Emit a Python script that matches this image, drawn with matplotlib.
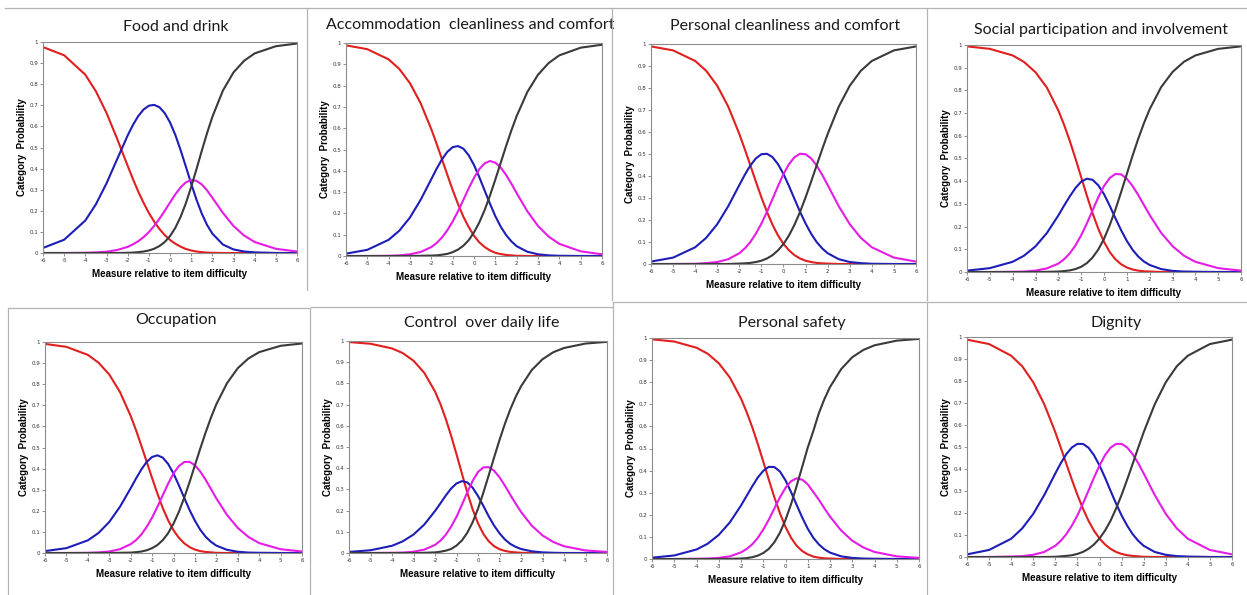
import matplotlib.pyplot as plt
from matplotlib.lines import Line2D

# measure relative to item difficulty (x positions of the read values)
measure = [-6, -5, -4, -3.5, -3, -2.5, -2, -1.75, -1.5, -1.25, -1, -0.75, -0.5, -0.25, 0,
           0.25, 0.5, 0.75, 1, 1.25, 1.5, 1.75, 2, 2.5, 3, 3.5, 4, 5, 6]

# category probability curves (cat0 red, cat1 blue, cat2 magenta, cat3 black)
food0 = [.976, .937, .845, .766, .664, .542, .413, .350, .291, .238, .190, .149, .114, .085, .062,
         .044, .030, .019, .012, .007, .004, .002, .001, 0, 0, 0, 0, 0, 0]
food1 = [.024, .063, .154, .231, .330, .444, .557, .607, .649, .680, .698, .702, .691, .663, .619,
         .560, .488, .409, .329, .253, .187, .133, .092, .040, .017, .007, .003, 0, 0]
food2 = [0, 0, .001, .003, .006, .014, .029, .041, .056, .075, .099, .128, .162, .200, .239,
         .278, .311, .335, .346, .342, .325, .297, .262, .190, .128, .083, .052, .020, .007]
food3 = [0, 0, 0, 0, 0, 0, .001, .002, .004, .007, .012, .020, .033, .052, .080,
         .119, .171, .236, .313, .397, .484, .568, .645, .770, .856, .911, .946, .980, .993]

accom0 = [.989, .971, .923, .878, .811, .717, .595, .526, .454, .381, .310, .244, .185, .136, .095,
          .064, .042, .026, .015, .009, .005, .003, .001, 0, 0, 0, 0, 0, 0]
accom1 = [.011, .029, .076, .119, .181, .264, .361, .410, .454, .489, .511, .516, .504, .473, .427,
          .370, .307, .245, .187, .138, .099, .069, .046, .020, .008, .003, .001, 0, 0]
accom2 = [0, 0, .001, .003, .008, .019, .042, .061, .087, .121, .162, .210, .263, .317, .367,
          .408, .435, .446, .438, .416, .381, .340, .295, .210, .141, .091, .057, .022, .008]
accom3 = [0, 0, 0, 0, 0, .001, .002, .003, .006, .010, .018, .030, .048, .074, .111,
          .158, .216, .284, .359, .437, .515, .589, .657, .770, .851, .906, .942, .978, .992]

pclean0 = [.989, .971, .923, .878, .810, .715, .591, .521, .448, .374, .303, .237, .179, .130, .091,
           .062, .040, .025, .015, .009, .005, .003, .002, 0, 0, 0, 0, 0, 0]
pclean1 = [.011, .029, .076, .119, .181, .263, .359, .406, .448, .480, .499, .501, .486, .454, .409,
           .354, .295, .237, .184, .138, .100, .071, .049, .022, .009, .004, .001, 0, 0]
pclean2 = [0, 0, .001, .004, .009, .022, .049, .071, .100, .138, .184, .237, .295, .354, .409,
           .454, .486, .501, .499, .480, .448, .406, .359, .263, .181, .119, .076, .029, .011]
pclean3 = [0, 0, 0, 0, 0, 0, .002, .003, .005, .009, .015, .025, .040, .062, .091,
           .130, .179, .237, .303, .374, .448, .521, .591, .715, .810, .878, .923, .971, .989]

social0 = [.994, .983, .954, .925, .880, .812, .712, .649, .578, .500, .418, .336, .259, .190, .133,
           .088, .056, .034, .020, .011, .006, .003, .002, 0, 0, 0, 0, 0, 0]
social1 = [.006, .017, .045, .072, .113, .172, .249, .292, .333, .370, .398, .411, .406, .382, .343,
           .292, .237, .184, .137, .098, .068, .046, .031, .013, .005, .002, .001, 0, 0]
social2 = [0, 0, .001, .002, .006, .016, .037, .056, .082, .117, .162, .214, .272, .329, .379,
           .414, .432, .430, .411, .379, .339, .295, .251, .173, .114, .072, .045, .017, .006]
social3 = [0, 0, 0, 0, 0, .001, .002, .004, .007, .013, .023, .039, .064, .099, .146,
           .206, .275, .352, .432, .512, .587, .656, .717, .814, .881, .926, .954, .983, .994]

occup0 = [.991, .977, .939, .902, .846, .763, .650, .582, .508, .432, .355, .281, .213, .155, .108,
          .072, .046, .028, .016, .009, .005, .003, .001, 0, 0, 0, 0, 0, 0]
occup1 = [.009, .023, .060, .095, .147, .219, .307, .353, .396, .432, .455, .463, .452, .422, .377,
          .321, .262, .204, .153, .110, .077, .053, .035, .015, .006, .002, .001, 0, 0]
occup2 = [0, 0, .001, .003, .007, .018, .042, .061, .088, .124, .168, .219, .274, .329, .377,
          .412, .431, .432, .416, .386, .347, .303, .259, .180, .119, .076, .047, .018, .007]
occup3 = [0, 0, 0, 0, 0, .001, .002, .004, .007, .013, .023, .038, .061, .094, .139,
          .195, .262, .336, .416, .495, .571, .642, .705, .805, .876, .922, .952, .982, .993]

control0 = [.995, .987, .965, .943, .907, .850, .762, .703, .633, .553, .466, .375, .286, .206, .140,
            .090, .055, .032, .018, .010, .005, .003, .001, 0, 0, 0, 0, 0, 0]
control1 = [.005, .013, .034, .055, .087, .134, .198, .234, .271, .304, .328, .339, .333, .308, .269,
            .222, .173, .129, .093, .064, .043, .029, .019, .008, .003, .001, 0, 0, 0]
control2 = [0, 0, .001, .002, .006, .016, .038, .058, .086, .124, .171, .227, .286, .340, .382,
            .404, .405, .388, .357, .318, .275, .233, .194, .129, .083, .052, .032, .012, .005]
control3 = [0, 0, 0, 0, 0, .001, .003, .006, .011, .019, .035, .059, .095, .145, .209,
            .285, .367, .451, .533, .609, .677, .736, .786, .863, .914, .947, .967, .988, .996]

safety0 = [.994, .984, .956, .929, .886, .821, .726, .666, .598, .522, .441, .359, .279, .207, .145,
           .096, .060, .036, .021, .011, .006, .003, .002, 0, 0, 0, 0, 0, 0]
safety1 = [.006, .016, .043, .069, .109, .166, .242, .285, .328, .368, .399, .417, .416, .396, .356,
           .303, .245, .188, .137, .096, .066, .044, .029, .012, .005, .002, .001, 0, 0]
safety2 = [0, 0, .001, .002, .005, .012, .030, .045, .066, .095, .133, .178, .229, .279, .322,
           .352, .365, .359, .338, .303, .268, .229, .192, .129, .083, .052, .032, .012, .005]
safety3 = [0, 0, 0, 0, 0, .001, .002, .004, .008, .015, .027, .046, .076, .119, .177,
           .248, .330, .417, .504, .579, .660, .724, .778, .859, .913, .946, .967, .988, .996]

dignity0 = [.988, .968, .915, .867, .794, .694, .567, .496, .423, .351, .282, .220, .165, .120, .084,
            .057, .037, .023, .014, .008, .005, .003, .001, 0, 0, 0, 0, 0, 0]
dignity1 = [.012, .032, .083, .130, .196, .282, .380, .427, .468, .498, .514, .514, .497, .463, .416,
            .361, .301, .243, .189, .143, .104, .074, .051, .023, .010, .004, .002, 0, 0]
dignity2 = [0, 0, .002, .004, .010, .023, .051, .074, .104, .143, .189, .243, .301, .361, .416,
            .463, .497, .514, .514, .498, .468, .427, .380, .282, .196, .130, .083, .032, .012]
dignity3 = [0, 0, 0, 0, 0, 0, .001, .003, .005, .008, .014, .023, .037, .057, .084,
            .120, .165, .220, .282, .351, .423, .496, .567, .694, .794, .867, .915, .968, .988]

titles = ['Food and drink', 'Accommodation  cleanliness and comfort', 'Personal cleanliness and comfort',
          'Social participation and involvement', 'Occupation', 'Control  over daily life',
          'Personal safety', 'Dignity']
x_ticks = [-6, -5, -4, -3, -2, -1, 0, 1, 2, 3, 4, 5, 6]
y_ticks = [0, 0.1, 0.2, 0.3, 0.4, 0.5, 0.6, 0.7, 0.8, 0.9, 1]
y_tick_labels = ['0', '0.1', '0.2', '0.3', '0.4', '0.5', '0.6', '0.7', '0.8', '0.9', '1']

curves = [
  (food0, food1, food2, food3),
  (accom0, accom1, accom2, accom3),
  (pclean0, pclean1, pclean2, pclean3),
  (social0, social1, social2, social3),
  (occup0, occup1, occup2, occup3),
  (control0, control1, control2, control3),
  (safety0, safety1, safety2, safety3),
  (dignity0, dignity1, dignity2, dignity3),
]

W, H = 1247, 595
fig = plt.figure(figsize=(W / 100, H / 100), dpi=100)

# plot areas in pixels: left, top, right, bottom ; title centre in pixels
boxes = [(43, 42, 297, 253), (346, 43, 602, 256), (651, 44, 916, 264), (967, 45, 1241, 272),
         (45, 342, 302, 553), (349, 341, 607, 553), (652, 338, 919, 559), (967, 337, 1232, 557)]
title_pos = [(176, 27), (470, 25), (785, 26), (1101, 30), (176, 320), (482, 323), (792, 323), (1116, 323)]

colors = ['#e11f1f', '#1d1db8', '#e61be6', '#3a3a3a']

# panel frames from the screenshot collage
frame_lines = [
  ((5, 8), (1247, 8)),
  ((307, 8), (307, 290)), ((612, 8), (612, 300)), ((927, 8), (927, 300)),
  ((8, 308), (310, 308)), ((311, 307), (613, 307)), ((613, 302), (1247, 302)),
  ((8, 308), (8, 595)), ((310, 308), (310, 595)), ((613, 302), (613, 595)), ((927, 302), (927, 595)),
]
for (x0, y0), (x1, y1) in frame_lines:
  fig.add_artist(Line2D([x0 / W, x1 / W], [1 - y0 / H, 1 - y1 / H], color='#b4b4b4', lw=0.9))

for i, (l, t, r, b) in enumerate(boxes):
  ax = fig.add_axes([l / W, 1 - b / H, (r - l) / W, (b - t) / H])
  for ys, c in zip(curves[i], colors):
    ax.plot(measure, ys, color=c, lw=1.5, solid_joinstyle='round')
  ax.set_xlim(-6, 6)
  ax.set_ylim(0, 1)
  ax.set_xticks(x_ticks)
  ax.set_xticklabels([str(v) for v in x_ticks])
  ax.set_yticks(y_ticks)
  ax.set_yticklabels(y_tick_labels)
  ax.tick_params(length=2, width=0.6, color='#808080', labelsize=4, pad=1.5, labelcolor='#333333')
  for s in ax.spines.values():
    s.set_color('#8c8c8c')
    s.set_linewidth(0.8)

  ax.set_xlabel('Measure relative to item difficulty', fontsize=7, fontweight='bold',
                family='Liberation Sans', va='center')
  ax.set_ylabel('Category  Probability', fontsize=7, fontweight='bold',
                family='Liberation Sans', va='center')
  ax.xaxis.set_label_coords(0.5, -21 / (b - t))
  ax.yaxis.set_label_coords(-21 / (r - l), 0.5)

  tx, ty = title_pos[i]
  ax.text((tx - l) / (r - l), 1 + (t - ty) / (b - t), titles[i], transform=ax.transAxes,
          ha='center', va='center', fontsize=11.5, family='Lato', color='#1a1a1a')

fig.savefig('out.png', dpi=100)
